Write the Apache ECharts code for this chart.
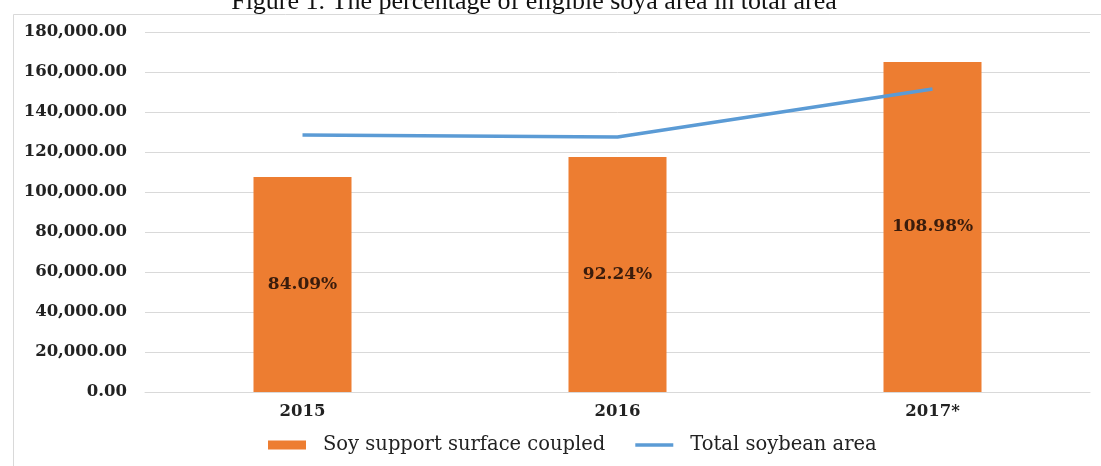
<!DOCTYPE html>
<html>
<head>
<meta charset="utf-8">
<script src="https://cdn.jsdelivr.net/npm/echarts@6/dist/echarts.min.js"></script>
<style>
  html, body { margin: 0; padding: 0; background: #fff; }
  #main { width: 1101px; height: 466px; }
</style>
</head>
<body>
<div id="main"></div>
<script>
var years = ['2015', '2016', '2017*'];
var coupledArea = [107500, 117500, 165000];
var totalArea = [128500, 127500, 151500];
var shareLabels = ['84.09%', '92.24%', '108.98%'];

var dom = document.getElementById('main');
var myChart = echarts.init(dom, null, { renderer: 'canvas' });

var serif = '"Liberation Serif", "Times New Roman", serif';
var wideSerif = '"DejaVu Serif", Georgia, serif';

var option = {
  backgroundColor: '#fff',
  animation: false,
  title: {
    text: 'Figure 1. The percentage of eligible soya area in total area',
    left: 529,
    textAlign: 'center',
    top: -16,
    textStyle: { fontFamily: serif, fontSize: 26, fontWeight: 'normal', color: '#111' }
  },
  graphic: [{
    type: 'rect',
    left: 11, top: 12,
    shape: { width: 1100, height: 470 },
    style: { fill: 'none', stroke: '#d9d9d9', lineWidth: 1 },
    z: -1
  }],
  grid: { left: 145, right: 11, top: 32, bottom: 74 },
  legend: {
    bottom: 6,
    left: 263,
    itemGap: 30,
    itemWidth: 38,
    itemHeight: 9,
    textStyle: { fontFamily: wideSerif, fontSize: 19.5, color: '#222', padding: [0, 0, 0, 12] },
    data: [
      { name: 'Soy support surface coupled', icon: 'rect' },
      { name: 'Total soybean area', icon: 'path://M0,3 L42,3 L42,7 L0,7 Z' }
    ]
  },
  xAxis: {
    type: 'category',
    data: years,
    axisLine: { lineStyle: { color: '#d9d9d9' } },
    axisTick: { show: false },
    axisLabel: { fontFamily: wideSerif, fontSize: 16.5, fontWeight: 'bold', color: '#222', margin: 11 }
  },
  yAxis: {
    type: 'value',
    min: 0,
    max: 180000,
    interval: 20000,
    splitLine: { lineStyle: { color: '#d9d9d9' } },
    axisLabel: {
      fontFamily: wideSerif, fontSize: 16.5, fontWeight: 'bold', color: '#222', margin: 18,
      formatter: function (v) {
        return v.toLocaleString('en-US', { minimumFractionDigits: 2, maximumFractionDigits: 2 });
      }
    }
  },
  series: [
    {
      name: 'Soy support surface coupled',
      type: 'bar',
      data: coupledArea,
      barWidth: 98,
      itemStyle: { color: '#ED7D31' },
      label: {
        show: true,
        position: 'inside',
        fontFamily: wideSerif, fontSize: 17, fontWeight: 'bold', color: '#3a1c0c',
        formatter: function (p) { return shareLabels[p.dataIndex]; }
      }
    },
    {
      name: 'Total soybean area',
      type: 'line',
      data: totalArea,
      symbol: 'none',
      lineStyle: { color: '#5B9BD5', width: 3.5 },
      itemStyle: { color: '#5B9BD5' }
    }
  ]
};

myChart.setOption(option);
</script>
</body>
</html>
